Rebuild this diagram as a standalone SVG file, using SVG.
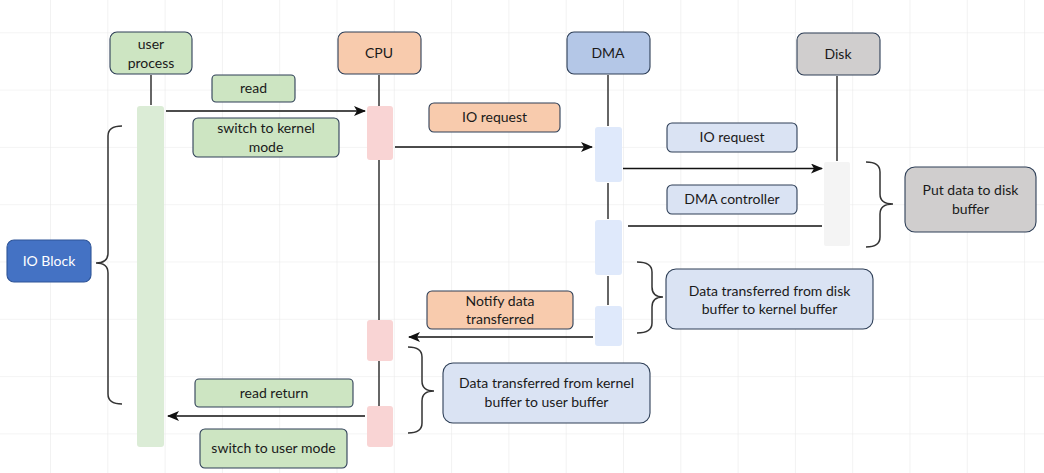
<svg xmlns="http://www.w3.org/2000/svg" width="1044" height="473" viewBox="0 0 1044 473">
<defs>
<pattern id="grid" x="50" y="32.3" width="57.3" height="57.3" patternUnits="userSpaceOnUse">
<path d="M0 0 H57.3 M0 0 V57.3" fill="none" stroke="#e9e9e9" stroke-width="1.2"/>
</pattern>
<marker id="arr" viewBox="0 0 12 10" refX="11" refY="5" markerWidth="12" markerHeight="10" markerUnits="userSpaceOnUse" orient="auto">
<path d="M0 0 L12 5 L0 10 L3 5 Z" fill="#111"/>
</marker>
<style>
text{font-family:Lato,"Liberation Sans",sans-serif;font-size:14px;fill:#1a1a1a;text-anchor:middle}
.lbl{stroke:#2e3f57;stroke-width:1.1}
.g{fill:#cde5c2}
.o{fill:#f8cbad}
.b{fill:#dae3f3}
.gr{fill:#d0cece}
.life{stroke:#333;stroke-width:1.5;fill:none}
.msg{stroke:#111;stroke-width:1.6;fill:none}
.brace{stroke:#333;stroke-width:1.5;fill:none}
</style>
</defs>
<rect width="1044" height="473" fill="#ffffff"/>
<rect width="1044" height="473" fill="url(#grid)"/>

<g id="lifelines">
<line class="life" x1="151" y1="75" x2="151" y2="105"/>
<line class="life" x1="379" y1="75" x2="379" y2="106"/>
<line class="life" x1="379" y1="160" x2="379" y2="320"/>
<line class="life" x1="379" y1="361" x2="379" y2="406"/>
<line class="life" x1="608" y1="75" x2="608" y2="126"/>
<line class="life" x1="608" y1="183" x2="608" y2="219"/>
<line class="life" x1="608" y1="276" x2="608" y2="305"/>
<line class="life" x1="837" y1="76" x2="837" y2="161"/>
</g>

<g id="activations">
<rect x="137" y="106" width="27" height="341" rx="3" fill="#dbecd6"/>
<rect x="367" y="106" width="26" height="54" rx="3" fill="#f9d4d4"/>
<rect x="367" y="320" width="26" height="41" rx="3" fill="#f9d4d4"/>
<rect x="367" y="406" width="26" height="41" rx="3" fill="#f9d4d4"/>
<rect x="595" y="127" width="27" height="55" rx="3" fill="#dfe9fb"/>
<rect x="595" y="220" width="27" height="55" rx="3" fill="#dfe9fb"/>
<rect x="595" y="306" width="27" height="40" rx="3" fill="#dfe9fb"/>
<rect x="824" y="162" width="26" height="84" rx="2" fill="#f4f4f4"/>
</g>

<g id="user-process">
<rect class="lbl g" x="110" y="32" width="82" height="42" rx="7"/>
<text x="151" y="49">user</text>
<text x="151" y="68">process</text>
</g>
<g id="cpu">
<rect class="lbl o" x="338" y="32" width="83" height="42" rx="7"/>
<text x="379" y="58">CPU</text>
</g>
<g id="dma">
<rect class="lbl" x="567" y="32" width="83" height="42" rx="7" fill="#b4c7e7"/>
<text x="608" y="58">DMA</text>
</g>
<g id="disk">
<rect class="lbl gr" x="797" y="33" width="83" height="42" rx="7"/>
<text x="838" y="59">Disk</text>
</g>

<g id="connectors">
<line class="msg" x1="166" y1="111" x2="365" y2="111" marker-end="url(#arr)"/>
<line class="msg" x1="395" y1="147" x2="592" y2="147" marker-end="url(#arr)"/>
<line class="msg" x1="623" y1="168.5" x2="822" y2="168.5" marker-end="url(#arr)"/>
<line class="msg" x1="822" y1="226" x2="628" y2="226"/>
<line class="msg" x1="593" y1="337" x2="409" y2="337" marker-end="url(#arr)"/>
<line class="msg" x1="365" y1="416" x2="168" y2="416" marker-end="url(#arr)"/>
</g>

<g id="braces">
<path class="brace" d="M122 126 Q108 126 108 136 L108 253 Q108 263 96 263 Q108 263 108 273 L108 394 Q108 404 122 404"/>
<path class="brace" d="M866 162 Q880 162 880 172 L880 194 Q880 204 893 204 Q880 204 880 214 L880 237 Q880 247 866 247"/>
<path class="brace" d="M637 262 Q652 262 652 272 L652 287 Q652 297 663 297 Q652 297 652 307 L652 323 Q652 333 637 333"/>
<path class="brace" d="M408 347 Q422 347 422 357 L422 381 Q422 391 434 391 Q422 391 422 401 L422 423 Q422 433 408 433"/>
</g>

<g id="label-read">
<rect class="lbl g" x="212" y="75" width="83" height="27" rx="4"/>
<text x="253.5" y="93">read</text>
</g>
<g id="label-switch-kernel">
<rect class="lbl g" x="193" y="118" width="146" height="39" rx="5"/>
<text x="266" y="133">switch to kernel</text>
<text x="266" y="151.5">mode</text>
</g>
<g id="label-io-request-cpu">
<rect class="lbl o" x="429" y="103" width="131" height="29" rx="5"/>
<text x="494.5" y="122">IO request</text>
</g>
<g id="label-io-request-dma">
<rect class="lbl b" x="667" y="123" width="130" height="29" rx="5"/>
<text x="732" y="142">IO request</text>
</g>
<g id="label-dma-controller">
<rect class="lbl b" x="667" y="185" width="130" height="29" rx="5"/>
<text x="732" y="204">DMA controller</text>
</g>
<g id="label-put-data">
<rect class="lbl gr" x="905" y="167" width="131" height="65" rx="10"/>
<text x="970.5" y="195">Put data to disk</text>
<text x="970.5" y="214">buffer</text>
</g>
<g id="label-disk-to-kernel">
<rect class="lbl b" x="666" y="269" width="207" height="60" rx="10"/>
<text x="769.5" y="295.5">Data transferred from disk</text>
<text x="769.5" y="314">buffer to kernel buffer</text>
</g>
<g id="label-notify">
<rect class="lbl o" x="427" y="291" width="146" height="38" rx="5"/>
<text x="500" y="305.5">Notify data</text>
<text x="500" y="324">transferred</text>
</g>
<g id="label-kernel-to-user">
<rect class="lbl b" x="443" y="363" width="207" height="60" rx="10"/>
<text x="546.5" y="388">Data transferred from kernel</text>
<text x="546.5" y="407">buffer to user buffer</text>
</g>
<g id="label-io-block">
<rect x="7" y="240" width="84" height="42" rx="7" fill="#4472c4" stroke="#2f5597" stroke-width="1.1"/>
<text x="49" y="266" style="fill:#ffffff">IO Block</text>
</g>
<g id="label-read-return">
<rect class="lbl g" x="195" y="379" width="158" height="28" rx="4"/>
<text x="274" y="398">read return</text>
</g>
<g id="label-switch-user">
<rect class="lbl g" x="200" y="429" width="147" height="39" rx="5"/>
<text x="273.5" y="453">switch to user mode</text>
</g>
</svg>
